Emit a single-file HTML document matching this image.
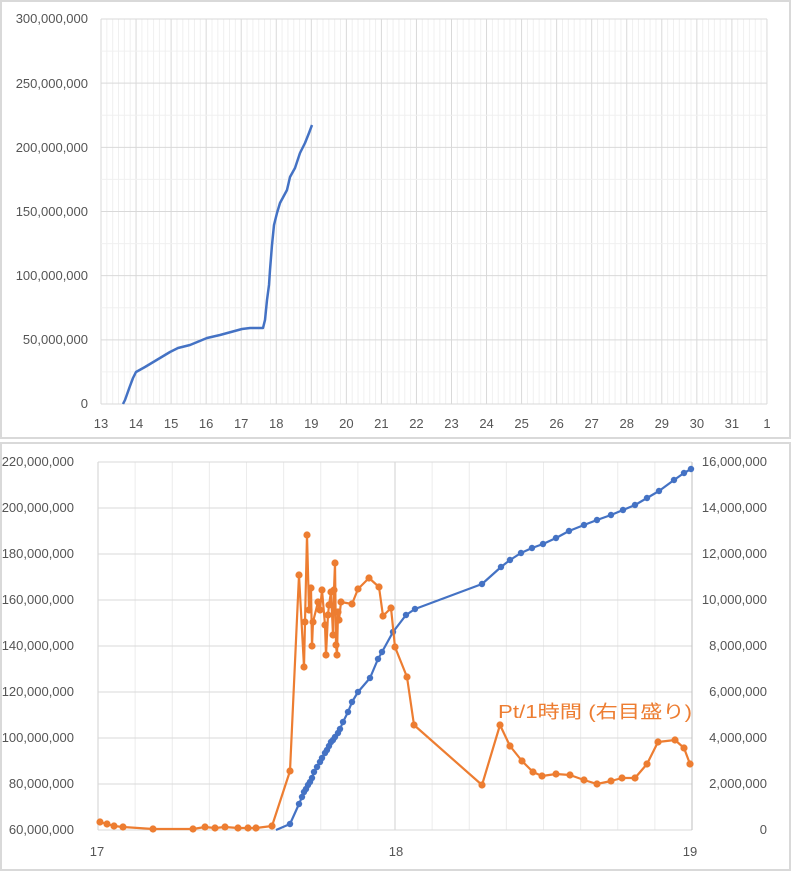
<!DOCTYPE html>
<html><head><meta charset="utf-8"><style>
html,body{margin:0;padding:0;background:#fff;}
svg{display:block;font-family:"Liberation Sans","Noto Sans CJK JP",sans-serif;}
</style></head><body>
<svg width="791" height="871" viewBox="0 0 791 871" xmlns="http://www.w3.org/2000/svg">
<rect x="0" y="0" width="791" height="871" fill="#fff"/>
<rect x="1" y="1" width="789" height="437" fill="#fff" stroke="#d9d9d9" stroke-width="2"/>
<rect x="1" y="443" width="789" height="427" fill="#fff" stroke="#d9d9d9" stroke-width="2"/>
<g id="topgrid"></g>
<g id="botgrid"></g>
<g id="series"></g>
<g font-size="13" fill="#555" text-anchor="end">
<text x="88" y="23">300,000,000</text>
<text x="88" y="88">250,000,000</text>
<text x="88" y="152">200,000,000</text>
<text x="88" y="216">150,000,000</text>
<text x="88" y="280">100,000,000</text>
<text x="88" y="344">50,000,000</text>
<text x="88" y="408">0</text>
</g>
<g font-size="13" fill="#555" text-anchor="middle" id="topx"></g>
<g font-size="13" fill="#555" text-anchor="end">
<text x="74" y="466">220,000,000</text>
<text x="74" y="512">200,000,000</text>
<text x="74" y="558">180,000,000</text>
<text x="74" y="604">160,000,000</text>
<text x="74" y="650">140,000,000</text>
<text x="74" y="696">120,000,000</text>
<text x="74" y="742">100,000,000</text>
<text x="74" y="788">80,000,000</text>
<text x="74" y="834">0</text>
</g>
<g font-size="13" fill="#555" text-anchor="end">
<text x="767" y="466">16,000,000</text>
<text x="767" y="512">14,000,000</text>
<text x="767" y="558">12,000,000</text>
<text x="767" y="604">10,000,000</text>
<text x="767" y="650">8,000,000</text>
<text x="767" y="696">6,000,000</text>
<text x="767" y="742">4,000,000</text>
<text x="767" y="788">2,000,000</text>
<text x="767" y="834">0</text>
</g>
<g font-size="13" fill="#555" text-anchor="middle">
<text x="97" y="856">17</text>
<text x="396" y="856">18</text>
<text x="690" y="856">19</text>
</g>
<text x="498" y="718" font-size="18" fill="#ed7d31" textLength="194" lengthAdjust="spacingAndGlyphs">Pt/1時間 (右目盛り)</text>
</svg>
<script>
(function(){
var NS="http://www.w3.org/2000/svg";
function el(p,t,a){var e=document.createElementNS(NS,t);for(var k in a)e.setAttribute(k,a[k]);p.appendChild(e);return e;}
var tg=document.getElementById("topgrid"),bg=document.getElementById("botgrid"),se=document.getElementById("series"),tx=document.getElementById("topx");
// fix typo label
document.querySelectorAll("text")[15].textContent="60,000,000";
var x0=101,dx=35.05,yT=19,yB=404;
for(var i=0;i<=19*6;i++){var x=x0+i*dx/6;el(tg,"line",{x1:x,x2:x,y1:yT,y2:yB,stroke:i%6?"#f0f0f0":"#d9d9d9","stroke-width":1});}
for(var j=0;j<=12;j++){var y=yT+j*(yB-yT)/12;el(tg,"line",{x1:x0,x2:767,y1:y,y2:y,stroke:j%2?"#f0f0f0":"#d9d9d9","stroke-width":1});}
var labs=[13,14,15,16,17,18,19,20,21,22,23,24,25,26,27,28,29,30,31,1];
labs.forEach(function(l,i){var t=el(tx,"text",{x:x0+i*dx,y:428});t.textContent=l;});
var bx0=98,bx1=692,by0=462,by1=830;
for(var i=0;i<=16;i++){var x=bx0+i*(bx1-bx0)/16;el(bg,"line",{x1:x,x2:x,y1:by0,y2:by1,stroke:i%8?"#ececec":"#d0d0d0","stroke-width":1});}
for(var j=0;j<=8;j++){var y=by0+j*46;el(bg,"line",{x1:bx0,x2:bx1,y1:y,y2:y,stroke:"#d9d9d9","stroke-width":1});}
el(bg,"line",{x1:bx1,x2:bx1,y1:by0,y2:by1,stroke:"#bfbfbf","stroke-width":1});
var tc=[[123,404],[125,400],[130,386],[133,378],[136,372],[145,367],[160,358],[170,352],[178,348],[190,345],[207,338],[220,335],[242,329],[250,328],[263,328],[265,320],[267,300],[269,285],[270,270],[272,245],[274,225],[277,213],[280,203],[287,190],[290,177],[295,168],[300,153],[305,143],[309,133],[312,125]];
el(se,"polyline",{points:tc.join(" "),fill:"none",stroke:"#4472c4","stroke-width":2.5,"stroke-linejoin":"round"});
var b=[[290,824],[299,804],[302,797],[304,792],[306,789],[308,785],[310,782],[312,778],[314,772],[317,767],[320,762],[322,758],[325,753],[327,750],[329,746],[331,742],[333,740],[335,737],[338,733],[340,729],[343,722],[348,712],[352,702],[358,692],[370,678],[378,659],[382,652],[393,632],[406,615],[415,609],[482,584],[501,567],[510,560],[521,553],[532,548],[543,544],[556,538],[569,531],[584,525],[597,520],[611,515],[623,510],[635,505],[647,498],[659,491],[674,480],[684,473],[691,469]];
el(se,"polyline",{points:[[276,830]].concat(b).join(" "),fill:"none",stroke:"#4472c4","stroke-width":2.2,"stroke-linejoin":"round"});
b.forEach(function(p){el(se,"circle",{cx:p[0],cy:p[1],r:3.2,fill:"#4472c4"});});
var o=[[100,822],[107,824],[114,826],[123,827],[153,829],[193,829],[205,827],[215,828],[225,827],[238,828],[248,828],[256,828],[272,826],[290,771],[299,575],[304,667],[305,622],[307,535],[309,610],[311,588],[312,646],[313,622],[318,602],[320,610],[322,590],[325,625],[326,655],[328,615],[329,605],[331,592],[333,635],[334,590],[335,563],[336,645],[337,655],[338,612],[339,620],[341,602],[352,604],[358,589],[369,578],[379,587],[383,616],[391,608],[395,647],[407,677],[414,725],[482,785],[500,725],[510,746],[522,761],[533,772],[542,776],[556,774],[570,775],[584,780],[597,784],[611,781],[622,778],[635,778],[647,764],[658,742],[675,740],[684,748],[690,764]];
el(se,"polyline",{points:o.join(" "),fill:"none",stroke:"#ed7d31","stroke-width":2.2,"stroke-linejoin":"round"});
o.forEach(function(p){el(se,"circle",{cx:p[0],cy:p[1],r:3.6,fill:"#ed7d31"});});
})();
</script>
</body></html>
